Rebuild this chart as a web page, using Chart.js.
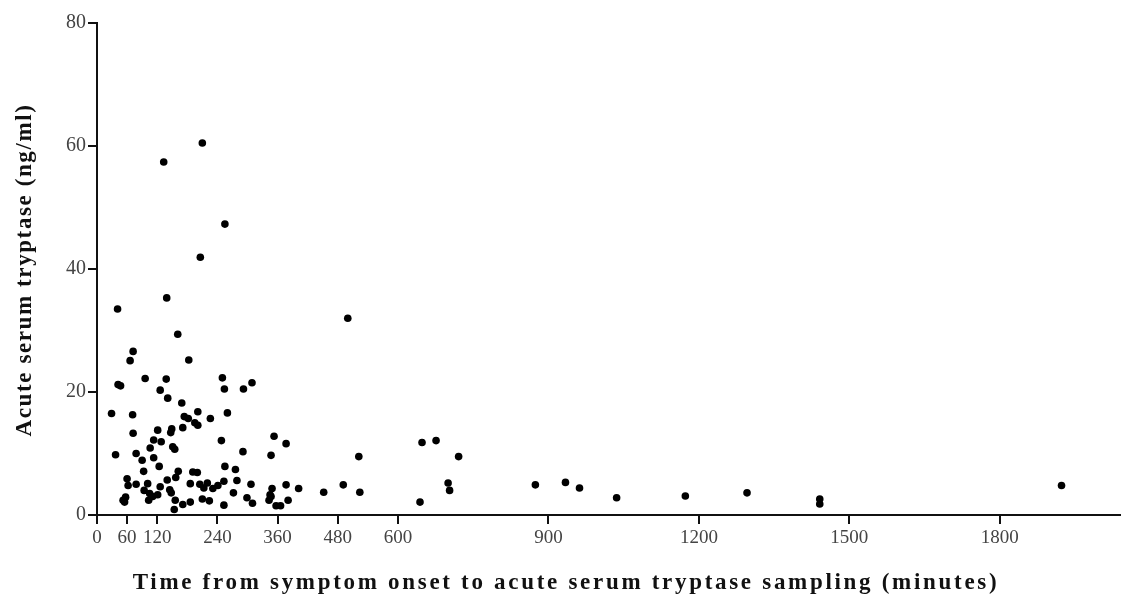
<!DOCTYPE html>
<html>
<head>
<meta charset="utf-8">
<script src="https://cdn.jsdelivr.net/npm/chart.js@4.4.1/dist/chart.umd.min.js"></script>
<style>
  body { margin: 0; background: #fff; }
  #wrap { width: 1124px; height: 610px; }
</style>
</head>
<body>
<div id="wrap"><canvas id="myChart" width="1124" height="610"></canvas></div>
<script>
//data
const minutes = [210, 133, 255, 206, 139, 41, 500, 161, 72, 66, 183, 96, 138, 42, 47, 250, 254, 126, 292, 309,
  141, 169, 29, 71, 201, 260, 226, 174, 182, 195, 201, 171, 121, 149, 147, 72, 113, 128, 248, 106,
  151, 155, 37, 78, 113, 291, 90, 124, 255, 93, 162, 191, 200, 276, 347, 353, 377, 60, 62, 78,
  101, 140, 157, 186, 205, 220, 213, 231, 241, 253, 279, 307, 349, 377, 402, 94, 105, 111, 121, 103,
  126, 145, 148, 52, 57, 55, 156, 154, 171, 186, 210, 224, 253, 272, 299, 310, 343, 347, 357, 366,
  381, 345, 452, 491, 524, 522, 648, 676, 721, 644, 700, 703, 874, 934, 962, 1036, 1173, 1296, 1441, 1441,
  1923];
const tryptase = [60.5, 57.4, 47.3, 41.9, 35.3, 33.5, 32.0, 29.4, 26.6, 25.1, 25.2, 22.2, 22.1, 21.2, 21.0, 22.3, 20.5, 20.3, 20.5, 21.5,
  19.0, 18.2, 16.5, 16.3, 16.8, 16.6, 15.7, 16.0, 15.7, 15.0, 14.6, 14.2, 13.8, 14.0, 13.4, 13.3, 12.2, 11.9, 12.1, 10.9,
  11.1, 10.7, 9.8, 10.0, 9.3, 10.3, 8.9, 7.9, 7.9, 7.1, 7.1, 7.0, 6.9, 7.4, 9.7, 12.8, 11.6, 5.9, 4.8, 5.0,
  5.1, 5.7, 6.1, 5.1, 5.0, 5.2, 4.4, 4.3, 4.8, 5.5, 5.6, 5.0, 4.3, 4.9, 4.3, 4.0, 3.5, 3.0, 3.3, 2.4,
  4.6, 4.1, 3.6, 2.4, 2.9, 2.1, 2.4, 0.9, 1.7, 2.1, 2.6, 2.3, 1.6, 3.6, 2.8, 1.9, 2.4, 3.0, 1.5, 1.5,
  2.4, 3.3, 3.7, 4.9, 3.7, 9.5, 11.8, 12.1, 9.5, 2.1, 5.2, 4.0, 4.9, 5.3, 4.4, 2.8, 3.1, 3.6, 2.6, 1.8,
  4.8];
const xTicks = [0, 60, 120, 240, 360, 480, 600, 900, 1200, 1500, 1800];
const yTicks = [0, 20, 40, 60, 80];
const xTitle = 'Time from symptom onset to acute serum tryptase sampling (minutes)';
const yTitle = 'Acute serum tryptase (ng/ml)';

const points = minutes.map((m, i) => ({ x: m, y: tryptase[i] }));

const serif = "'Liberation Serif', 'DejaVu Serif', serif";

//axis titles, drawn with the wide letter spacing of the original
const axisTitles = {
    id: 'axisTitles',
    afterDraw(chart) {
        const c = chart.ctx;
        const a = chart.chartArea;
        c.save();
        c.fillStyle = '#111';
        c.textAlign = 'center';
        c.textBaseline = 'middle';
        c.font = 'bold 23px ' + serif;
        c.letterSpacing = '2.7px';
        c.fillText(xTitle, chart.width / 2 + 4, 583);
        c.translate(25, (a.top + a.bottom) / 2 + 1);
        c.rotate(-Math.PI / 2);
        c.letterSpacing = '1.6px';
        c.fillText(yTitle, 0, 0);
        c.restore();
    }
};

const ctx = document.getElementById('myChart').getContext('2d');
const chart = new Chart(ctx, {
    type: 'scatter',
    data: {
        datasets: [{
            data: points,
            backgroundColor: '#000',
            borderWidth: 0,
            pointRadius: 3.8,
            pointHoverRadius: 3.8
        }]
    },
    options: {
        responsive: false,
        animation: false,
        devicePixelRatio: 1,
        layout: { padding: { top: 23, right: 0, left: 0, bottom: 0 } },
        plugins: {
            legend: { display: false },
            tooltip: { enabled: false }
        },
        scales: {
            x: {
                type: 'linear',
                min: 0,
                max: 2040,
                afterBuildTicks: scale => { scale.ticks = xTicks.map(v => ({ value: v })); },
                afterFit: scale => { scale.height = 95; },
                grid: { display: true, drawOnChartArea: false, color: '#111', lineWidth: 2, tickLength: 9 },
                border: { display: true, color: '#111', width: 2 },
                ticks: {
                    color: '#444', font: { family: serif, size: 19 }, padding: 3, maxRotation: 0, autoSkip: false,
                    callback: v => String(v)
                }
            },
            y: {
                min: 0,
                max: 80,
                afterBuildTicks: scale => { scale.ticks = yTicks.map(v => ({ value: v })); },
                afterFit: scale => { scale.width = 97; },
                grid: { display: true, drawOnChartArea: false, color: '#111', lineWidth: 2, tickLength: 9 },
                border: { display: true, color: '#111', width: 2 },
                ticks: { color: '#444', font: { family: serif, size: 20 }, padding: 2, callback: v => String(v) }
            }
        }
    },
    plugins: [axisTitles]
});
</script>
</body>
</html>
